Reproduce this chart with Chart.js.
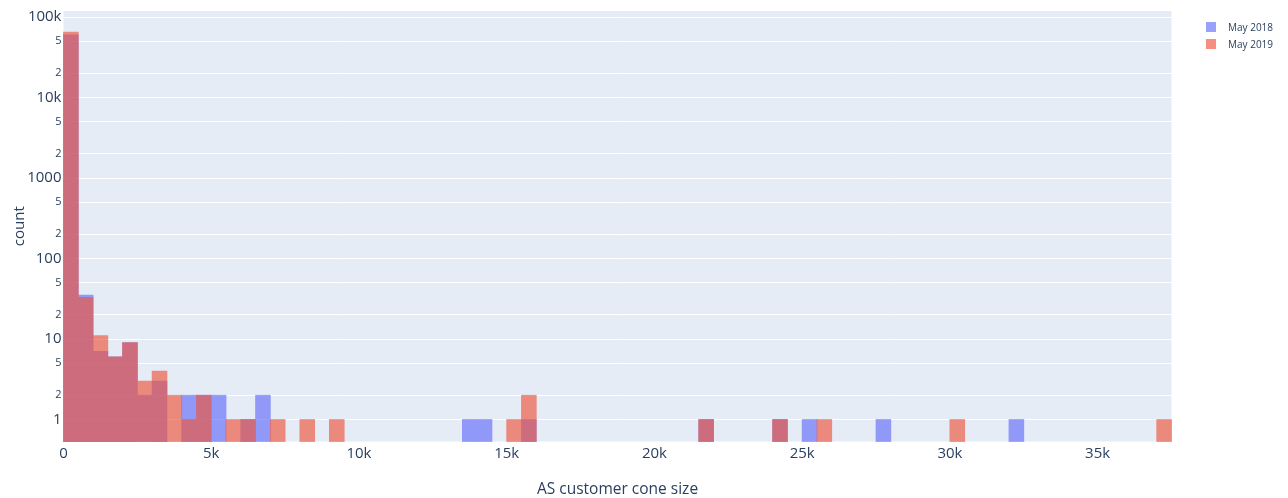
<!DOCTYPE html>
<html lang="en">

<head>
    <meta charset="UTF-8">
    <title>AS customer cone size</title>
    <script src="https://cdn.jsdelivr.net/npm/chart.js"></script>
    <style>
        body { margin: 0; background: #fff; }
        .wrap { position: relative; width: 1288px; height: 498px; }
        .legend { position: absolute; left: 1206px; top: 18px; font: 10px "Open Sans", verdana, arial, sans-serif; color: #2a3f5f; }
        .legend div { height: 17px; display: flex; align-items: center; }
        .legend span { display: inline-block; width: 10px; height: 10px; margin-right: 12px; }
    </style>
</head>

<body>
    <div class="wrap">
        <canvas id="myChart" width="1288" height="498"></canvas>
        <div class="legend">
            <div><span style="background: rgba(99,110,250,0.65)"></span>May 2018</div>
            <div><span style="background: rgba(239,85,59,0.65)"></span>May 2019</div>
        </div>
    </div>
    <script>
        // histogram bins, 500 wide, starting at 0
        const binSize = 500;
        const binStarts = [
            0, 500, 1000, 1500, 2000, 2500, 3000, 3500, 4000, 4500,
            5000, 5500, 6000, 6500, 7000, 7500, 8000, 8500, 9000, 9500,
            10000, 10500, 11000, 11500, 12000, 12500, 13000, 13500, 14000, 14500,
            15000, 15500, 16000, 16500, 17000, 17500, 18000, 18500, 19000, 19500,
            20000, 20500, 21000, 21500, 22000, 22500, 23000, 23500, 24000, 24500,
            25000, 25500, 26000, 26500, 27000, 27500, 28000, 28500, 29000, 29500,
            30000, 30500, 31000, 31500, 32000, 32500, 33000, 33500, 34000, 34500,
            35000, 35500, 36000, 36500, 37000
        ];

        const may2018 = [
            60000, 35, 7, 6, 9, 2, 3, 0, 2, 2, 2, 0, 1, 2, 0, 0, 0, 0, 0, 0,
            0, 0, 0, 0, 0, 0, 0, 1, 1, 0,
            0, 1, 0, 0, 0, 0, 0, 0, 0, 0,
            0, 0, 0, 1, 0, 0, 0, 0, 1, 0,
            1, 0, 0, 0, 0, 1, 0, 0, 0, 0,
            0, 0, 0, 0, 1, 0, 0, 0, 0, 0,
            0, 0, 0, 0, 0
        ];
        const may2019 = [
            65000, 33, 11, 6, 9, 3, 4, 2, 1, 2, 0, 1, 1, 0, 1, 0, 1, 0, 1, 0,
            0, 0, 0, 0, 0, 0, 0, 0, 0, 0,
            1, 2, 0, 0, 0, 0, 0, 0, 0, 0,
            0, 0, 0, 1, 0, 0, 0, 0, 1, 0,
            0, 1, 0, 0, 0, 0, 0, 0, 0, 0,
            1, 0, 0, 0, 0, 0, 0, 0, 0, 0,
            0, 0, 0, 0, 1
        ];

        const xTicks = [0, 5000, 10000, 15000, 20000, 25000, 30000, 35000];
        const yTicks = [1, 2, 5, 10, 20, 50, 100, 200, 500, 1000, 2000, 5000, 10000, 20000, 50000, 100000];

        const fontFamily = '"Open Sans", verdana, arial, sans-serif';
        const textColor = '#2a3f5f';
        const barOpacity = 0.65;

        // empty bins are left out on the log axis
        function toPoints(counts) {
            return counts.map((c, i) => ({ x: binStarts[i] + binSize / 2, y: c > 0 ? c : null }));
        }

        function isMajor(v) {
            return Math.abs(Math.log10(v) - Math.round(Math.log10(v))) < 1e-9;
        }

        const plotBackground = {
            id: 'plotBackground',
            beforeDraw(chart) {
                const { ctx, chartArea } = chart;
                ctx.save();
                ctx.fillStyle = '#E5ECF6';
                ctx.fillRect(chartArea.left, chartArea.top, chartArea.right - chartArea.left, chartArea.bottom - chartArea.top);
                ctx.restore();
            }
        };

        // each series is painted opaque on its own layer, then laid down
        // translucent, so neighbouring bins don't leave seams between them
        const barLayers = {
            id: 'barLayers',
            beforeDatasetDraw(chart, args) {
                const layer = document.createElement('canvas');
                layer.width = chart.width;
                layer.height = chart.height;
                const controller = args.meta.controller;
                controller._mainCtx = controller._ctx;
                controller._ctx = layer.getContext('2d');
            },
            afterDatasetDraw(chart, args) {
                const controller = args.meta.controller;
                const layer = controller._ctx.canvas;
                controller._ctx = controller._mainCtx;
                const ctx = chart.ctx;
                ctx.save();
                ctx.globalAlpha = barOpacity;
                ctx.drawImage(layer, 0, 0);
                ctx.restore();
            }
        };

        const config = {
            type: 'bar',
            data: {
                datasets: [
                    {
                        label: 'May 2018',
                        data: toPoints(may2018),
                        backgroundColor: 'rgb(99,110,250)',
                        order: 1
                    },
                    {
                        label: 'May 2019',
                        data: toPoints(may2019),
                        backgroundColor: 'rgb(239,85,59)',
                        order: 0
                    }
                ]
            },
            options: {
                responsive: false,
                animation: false,
                devicePixelRatio: 1,
                layout: { padding: { top: 11, right: 116.5, bottom: 0, left: 0 } },
                datasets: {
                    bar: { grouped: false, barPercentage: 1, categoryPercentage: 1, borderWidth: 0, inflateAmount: 0.4 }
                },
                plugins: {
                    legend: { display: false },
                    tooltip: { enabled: false }
                },
                scales: {
                    x: {
                        type: 'linear',
                        offset: false,
                        min: 0,
                        max: 37500,
                        afterBuildTicks: (scale) => { scale.ticks = xTicks.map(v => ({ value: v })); },
                        afterFit: (scale) => { scale.height = 56.5; },
                        grid: { display: false, drawTicks: false, offset: false },
                        border: { display: false },
                        ticks: {
                            padding: 3,
                            maxRotation: 0,
                            color: textColor,
                            font: { family: fontFamily, size: 15 },
                            callback: (v) => v === 0 ? '0' : (v / 1000) + 'k'
                        },
                        title: {
                            display: true,
                            text: 'AS customer cone size',
                            color: textColor,
                            font: { family: fontFamily, size: 15.5 },
                            padding: { top: 0, bottom: -1 }
                        }
                    },
                    y: {
                        type: 'logarithmic',
                        min: 0.533,
                        max: 119000,
                        afterBuildTicks: (scale) => { scale.ticks = yTicks.map(v => ({ value: v })); },
                        afterFit: (scale) => { scale.width = 63.5; },
                        grid: { color: '#ffffff', lineWidth: 1, drawTicks: false },
                        border: { display: false },
                        ticks: {
                            padding: 2,
                            color: textColor,
                            font: (ctx) => ({ family: fontFamily, size: ctx.tick && isMajor(ctx.tick.value) ? 15 : 11 }),
                            callback: (v) => {
                                if (!isMajor(v)) {
                                    return String(Math.round(v / Math.pow(10, Math.floor(Math.log10(v) + 1e-9))));
                                }
                                return v >= 10000 ? (v / 1000) + 'k' : String(v);
                            }
                        },
                        title: {
                            display: true,
                            text: 'count',
                            color: textColor,
                            font: { family: fontFamily, size: 15 },
                            padding: { top: 11, bottom: 0 }
                        }
                    }
                }
            },
            plugins: [plotBackground, barLayers]
        };

        new Chart(document.getElementById('myChart'), config);
    </script>
</body>

</html>
